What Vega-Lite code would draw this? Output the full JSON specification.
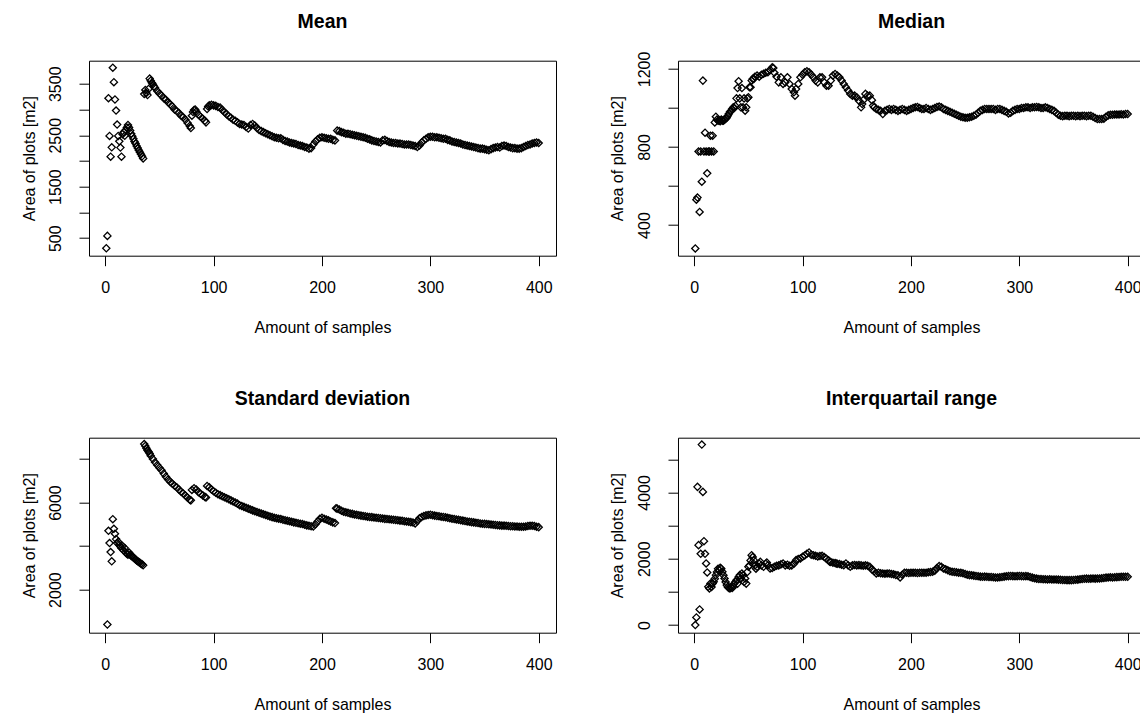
{
"$schema": "https://vega.github.io/schema/vega-lite/v6.json",
"padding": {"left": 20, "top": 10.7, "right": 0, "bottom": 0},
"background": "white",
"columns": 2,
"spacing": {"row": 182, "column": 122},
"bounds": "flush",
"datasets": {
"mean": [
{"n":1,"v":305},{"n":2,"v":545},{"n":3,"v":3220},{"n":4,"v":2487},{"n":5,"v":2084},{"n":6,"v":2265},{"n":7,"v":3812},{"n":8,"v":3531},{"n":9,"v":3194},{"n":10,"v":2980},{"n":11,"v":2707},{"n":12,"v":2487},{"n":13,"v":2382},{"n":14,"v":2260},{"n":15,"v":2084},{"n":16,"v":2520},{"n":17,"v":2560},{"n":18,"v":2490},{"n":19,"v":2600},{"n":20,"v":2650},{"n":21,"v":2700},{"n":22,"v":2650},{"n":23,"v":2590},{"n":24,"v":2530},{"n":25,"v":2480},{"n":26,"v":2430},{"n":27,"v":2380},{"n":28,"v":2340},{"n":29,"v":2290},{"n":30,"v":2250},{"n":31,"v":2210},{"n":32,"v":2170},{"n":33,"v":2130},{"n":34,"v":2090},{"n":35,"v":2050},{"n":36,"v":3300},{"n":37,"v":3380},{"n":38,"v":3320},{"n":39,"v":3280},{"n":40,"v":3400},{"n":41,"v":3600},{"n":42,"v":3560},{"n":43,"v":3520},{"n":44,"v":3490},{"n":45,"v":3450},{"n":46,"v":3420},{"n":48,"v":3360},{"n":50,"v":3310},{"n":52,"v":3270},{"n":54,"v":3220},{"n":56,"v":3190},{"n":58,"v":3140},{"n":60,"v":3100},{"n":62,"v":3060},{"n":64,"v":3000},{"n":66,"v":2970},{"n":68,"v":2930},{"n":70,"v":2880},{"n":72,"v":2850},{"n":74,"v":2800},{"n":76,"v":2740},{"n":78,"v":2680},{"n":79,"v":2640},{"n":80,"v":2880},{"n":81,"v":2950},{"n":82,"v":2990},{"n":83,"v":3000},{"n":84,"v":2960},{"n":86,"v":2900},{"n":88,"v":2860},{"n":90,"v":2820},{"n":92,"v":2780},{"n":93,"v":2750},{"n":94,"v":3010},{"n":95,"v":3060},{"n":96,"v":3080},{"n":98,"v":3090},{"n":100,"v":3080},{"n":102,"v":3070},{"n":104,"v":3050},{"n":106,"v":3040},{"n":108,"v":2990},{"n":110,"v":2950},{"n":112,"v":2910},{"n":114,"v":2870},{"n":116,"v":2840},{"n":118,"v":2800},{"n":120,"v":2780},{"n":122,"v":2750},{"n":124,"v":2720},{"n":126,"v":2710},{"n":128,"v":2700},{"n":130,"v":2660},{"n":132,"v":2630},{"n":134,"v":2700},{"n":136,"v":2720},{"n":138,"v":2690},{"n":140,"v":2640},{"n":142,"v":2600},{"n":144,"v":2580},{"n":146,"v":2560},{"n":148,"v":2540},{"n":150,"v":2520},{"n":152,"v":2500},{"n":154,"v":2480},{"n":156,"v":2460},{"n":158,"v":2450},{"n":160,"v":2440},{"n":162,"v":2440},{"n":164,"v":2410},{"n":166,"v":2390},{"n":168,"v":2380},{"n":170,"v":2360},{"n":172,"v":2350},{"n":174,"v":2340},{"n":176,"v":2330},{"n":178,"v":2310},{"n":180,"v":2300},{"n":182,"v":2290},{"n":184,"v":2270},{"n":186,"v":2260},{"n":188,"v":2240},{"n":190,"v":2250},{"n":192,"v":2320},{"n":194,"v":2380},{"n":196,"v":2420},{"n":198,"v":2450},{"n":200,"v":2460},{"n":202,"v":2450},{"n":204,"v":2440},{"n":206,"v":2430},{"n":208,"v":2430},{"n":210,"v":2410},{"n":212,"v":2400},{"n":214,"v":2590},{"n":216,"v":2580},{"n":218,"v":2560},{"n":220,"v":2550},{"n":222,"v":2530},{"n":224,"v":2530},{"n":226,"v":2520},{"n":228,"v":2510},{"n":230,"v":2500},{"n":232,"v":2490},{"n":234,"v":2480},{"n":236,"v":2470},{"n":238,"v":2460},{"n":240,"v":2450},{"n":242,"v":2430},{"n":244,"v":2420},{"n":246,"v":2400},{"n":248,"v":2390},{"n":250,"v":2380},{"n":252,"v":2370},{"n":254,"v":2360},{"n":256,"v":2400},{"n":258,"v":2410},{"n":260,"v":2390},{"n":262,"v":2370},{"n":264,"v":2360},{"n":266,"v":2350},{"n":268,"v":2350},{"n":270,"v":2340},{"n":272,"v":2340},{"n":274,"v":2330},{"n":276,"v":2320},{"n":278,"v":2320},{"n":280,"v":2320},{"n":282,"v":2310},{"n":284,"v":2300},{"n":286,"v":2290},{"n":288,"v":2270},{"n":290,"v":2300},{"n":292,"v":2360},{"n":294,"v":2400},{"n":296,"v":2430},{"n":298,"v":2460},{"n":300,"v":2470},{"n":302,"v":2470},{"n":304,"v":2460},{"n":306,"v":2460},{"n":308,"v":2450},{"n":310,"v":2440},{"n":312,"v":2430},{"n":314,"v":2430},{"n":316,"v":2410},{"n":318,"v":2400},{"n":320,"v":2380},{"n":322,"v":2370},{"n":324,"v":2360},{"n":326,"v":2350},{"n":328,"v":2340},{"n":330,"v":2320},{"n":332,"v":2310},{"n":334,"v":2300},{"n":336,"v":2290},{"n":338,"v":2280},{"n":340,"v":2270},{"n":342,"v":2260},{"n":344,"v":2250},{"n":346,"v":2240},{"n":348,"v":2240},{"n":350,"v":2230},{"n":352,"v":2220},{"n":354,"v":2210},{"n":356,"v":2230},{"n":358,"v":2250},{"n":360,"v":2260},{"n":362,"v":2270},{"n":364,"v":2260},{"n":366,"v":2290},{"n":368,"v":2300},{"n":370,"v":2290},{"n":372,"v":2270},{"n":374,"v":2260},{"n":376,"v":2250},{"n":378,"v":2250},{"n":380,"v":2240},{"n":382,"v":2240},{"n":384,"v":2250},{"n":386,"v":2270},{"n":388,"v":2290},{"n":390,"v":2310},{"n":392,"v":2320},{"n":394,"v":2340},{"n":396,"v":2350},{"n":398,"v":2360},{"n":400,"v":2350}
],
"median": [
{"n":1,"v":280},{"n":2,"v":530},{"n":3,"v":541},{"n":4,"v":777},{"n":5,"v":467},{"n":6,"v":777},{"n":7,"v":622},{"n":8,"v":1140},{"n":9,"v":777},{"n":10,"v":873},{"n":11,"v":777},{"n":12,"v":665},{"n":13,"v":777},{"n":14,"v":777},{"n":15,"v":858},{"n":16,"v":777},{"n":17,"v":858},{"n":18,"v":777},{"n":19,"v":926},{"n":20,"v":955},{"n":21,"v":940},{"n":22,"v":935},{"n":23,"v":935},{"n":24,"v":932},{"n":25,"v":940},{"n":26,"v":935},{"n":27,"v":935},{"n":28,"v":940},{"n":29,"v":945},{"n":30,"v":950},{"n":31,"v":960},{"n":32,"v":970},{"n":33,"v":980},{"n":34,"v":985},{"n":35,"v":995},{"n":36,"v":1003},{"n":37,"v":1000},{"n":38,"v":1010},{"n":39,"v":1049},{"n":40,"v":1102},{"n":41,"v":1137},{"n":42,"v":1049},{"n":43,"v":1003},{"n":44,"v":1102},{"n":45,"v":1003},{"n":46,"v":1049},{"n":47,"v":986},{"n":48,"v":1003},{"n":49,"v":1049},{"n":50,"v":1055},{"n":51,"v":1106},{"n":52,"v":1106},{"n":53,"v":1140},{"n":54,"v":1149},{"n":55,"v":1149},{"n":56,"v":1160},{"n":58,"v":1166},{"n":60,"v":1160},{"n":62,"v":1170},{"n":64,"v":1175},{"n":66,"v":1180},{"n":68,"v":1183},{"n":70,"v":1195},{"n":72,"v":1208},{"n":73,"v":1205},{"n":74,"v":1180},{"n":76,"v":1160},{"n":78,"v":1131},{"n":80,"v":1157},{"n":82,"v":1123},{"n":84,"v":1131},{"n":86,"v":1157},{"n":88,"v":1123},{"n":90,"v":1097},{"n":92,"v":1080},{"n":93,"v":1063},{"n":94,"v":1097},{"n":96,"v":1123},{"n":98,"v":1157},{"n":100,"v":1170},{"n":102,"v":1183},{"n":104,"v":1188},{"n":106,"v":1183},{"n":108,"v":1170},{"n":110,"v":1157},{"n":112,"v":1140},{"n":114,"v":1131},{"n":116,"v":1157},{"n":118,"v":1157},{"n":120,"v":1131},{"n":122,"v":1114},{"n":124,"v":1114},{"n":126,"v":1140},{"n":128,"v":1166},{"n":130,"v":1174},{"n":132,"v":1166},{"n":134,"v":1157},{"n":136,"v":1140},{"n":138,"v":1123},{"n":140,"v":1106},{"n":142,"v":1089},{"n":144,"v":1072},{"n":146,"v":1063},{"n":148,"v":1063},{"n":150,"v":1055},{"n":152,"v":1037},{"n":154,"v":1003},{"n":155,"v":1020},{"n":156,"v":1040},{"n":158,"v":1072},{"n":160,"v":1063},{"n":162,"v":1063},{"n":164,"v":1040},{"n":165,"v":1012},{"n":166,"v":1003},{"n":168,"v":995},{"n":170,"v":990},{"n":172,"v":986},{"n":174,"v":969},{"n":176,"v":986},{"n":178,"v":990},{"n":180,"v":995},{"n":182,"v":990},{"n":184,"v":995},{"n":186,"v":990},{"n":188,"v":985},{"n":190,"v":990},{"n":192,"v":995},{"n":194,"v":990},{"n":196,"v":985},{"n":198,"v":990},{"n":200,"v":995},{"n":202,"v":1000},{"n":204,"v":1003},{"n":206,"v":1005},{"n":208,"v":1000},{"n":210,"v":995},{"n":212,"v":995},{"n":214,"v":1000},{"n":216,"v":995},{"n":218,"v":990},{"n":220,"v":995},{"n":222,"v":1000},{"n":224,"v":1005},{"n":226,"v":1007},{"n":228,"v":1003},{"n":230,"v":995},{"n":232,"v":990},{"n":234,"v":985},{"n":236,"v":980},{"n":238,"v":975},{"n":240,"v":970},{"n":242,"v":965},{"n":244,"v":960},{"n":246,"v":955},{"n":248,"v":952},{"n":250,"v":950},{"n":252,"v":950},{"n":254,"v":952},{"n":256,"v":955},{"n":258,"v":960},{"n":260,"v":965},{"n":262,"v":975},{"n":264,"v":985},{"n":266,"v":990},{"n":268,"v":995},{"n":270,"v":995},{"n":272,"v":995},{"n":274,"v":995},{"n":276,"v":995},{"n":278,"v":990},{"n":280,"v":995},{"n":282,"v":995},{"n":284,"v":990},{"n":286,"v":985},{"n":288,"v":980},{"n":290,"v":972},{"n":292,"v":975},{"n":294,"v":985},{"n":296,"v":990},{"n":298,"v":995},{"n":300,"v":995},{"n":302,"v":1000},{"n":304,"v":1000},{"n":306,"v":1003},{"n":308,"v":1003},{"n":310,"v":1000},{"n":312,"v":1003},{"n":314,"v":1003},{"n":316,"v":1005},{"n":318,"v":1003},{"n":320,"v":1000},{"n":322,"v":1000},{"n":324,"v":1003},{"n":326,"v":1000},{"n":328,"v":995},{"n":330,"v":990},{"n":332,"v":985},{"n":334,"v":975},{"n":336,"v":965},{"n":338,"v":960},{"n":340,"v":958},{"n":342,"v":960},{"n":344,"v":960},{"n":346,"v":958},{"n":348,"v":960},{"n":350,"v":960},{"n":352,"v":958},{"n":354,"v":960},{"n":356,"v":958},{"n":358,"v":960},{"n":360,"v":960},{"n":362,"v":958},{"n":364,"v":960},{"n":366,"v":960},{"n":368,"v":955},{"n":370,"v":948},{"n":372,"v":943},{"n":374,"v":943},{"n":376,"v":943},{"n":378,"v":945},{"n":380,"v":955},{"n":382,"v":962},{"n":384,"v":965},{"n":386,"v":965},{"n":388,"v":966},{"n":390,"v":966},{"n":392,"v":966},{"n":394,"v":968},{"n":396,"v":966},{"n":398,"v":969},{"n":400,"v":969}
],
"sd": [
{"n":2,"v":397},{"n":3,"v":4703},{"n":4,"v":4138},{"n":5,"v":3726},{"n":6,"v":3298},{"n":7,"v":5237},{"n":8,"v":4794},{"n":9,"v":4565},{"n":10,"v":4321},{"n":11,"v":4138},{"n":12,"v":4200},{"n":13,"v":4050},{"n":14,"v":3985},{"n":15,"v":3900},{"n":16,"v":4000},{"n":17,"v":3800},{"n":18,"v":3909},{"n":19,"v":3700},{"n":20,"v":3650},{"n":21,"v":3603},{"n":22,"v":3700},{"n":23,"v":3600},{"n":24,"v":3550},{"n":25,"v":3527},{"n":26,"v":3480},{"n":27,"v":3430},{"n":28,"v":3380},{"n":29,"v":3340},{"n":30,"v":3298},{"n":31,"v":3270},{"n":32,"v":3230},{"n":33,"v":3190},{"n":34,"v":3160},{"n":35,"v":3115},{"n":36,"v":8688},{"n":37,"v":8600},{"n":38,"v":8500},{"n":39,"v":8400},{"n":40,"v":8337},{"n":41,"v":8250},{"n":42,"v":8150},{"n":44,"v":8000},{"n":46,"v":7850},{"n":48,"v":7720},{"n":50,"v":7600},{"n":52,"v":7480},{"n":54,"v":7330},{"n":56,"v":7190},{"n":58,"v":7060},{"n":60,"v":6950},{"n":62,"v":6860},{"n":64,"v":6770},{"n":66,"v":6700},{"n":68,"v":6600},{"n":70,"v":6500},{"n":72,"v":6420},{"n":74,"v":6320},{"n":76,"v":6220},{"n":78,"v":6130},{"n":79,"v":6100},{"n":80,"v":6581},{"n":82,"v":6660},{"n":84,"v":6600},{"n":86,"v":6480},{"n":88,"v":6400},{"n":90,"v":6330},{"n":92,"v":6260},{"n":93,"v":6230},{"n":94,"v":6764},{"n":96,"v":6700},{"n":98,"v":6600},{"n":100,"v":6520},{"n":102,"v":6450},{"n":104,"v":6380},{"n":106,"v":6340},{"n":108,"v":6290},{"n":110,"v":6240},{"n":112,"v":6200},{"n":114,"v":6150},{"n":116,"v":6100},{"n":118,"v":6050},{"n":120,"v":6000},{"n":122,"v":5950},{"n":124,"v":5880},{"n":126,"v":5840},{"n":128,"v":5800},{"n":130,"v":5760},{"n":132,"v":5720},{"n":134,"v":5680},{"n":136,"v":5640},{"n":138,"v":5600},{"n":140,"v":5570},{"n":142,"v":5530},{"n":144,"v":5500},{"n":146,"v":5460},{"n":148,"v":5430},{"n":150,"v":5390},{"n":152,"v":5360},{"n":154,"v":5330},{"n":156,"v":5300},{"n":158,"v":5280},{"n":160,"v":5260},{"n":162,"v":5240},{"n":164,"v":5210},{"n":166,"v":5190},{"n":168,"v":5160},{"n":170,"v":5140},{"n":172,"v":5120},{"n":174,"v":5090},{"n":176,"v":5070},{"n":178,"v":5050},{"n":180,"v":5030},{"n":182,"v":5010},{"n":184,"v":4980},{"n":186,"v":4950},{"n":188,"v":4930},{"n":190,"v":4910},{"n":192,"v":4900},{"n":194,"v":5000},{"n":196,"v":5130},{"n":198,"v":5250},{"n":200,"v":5300},{"n":202,"v":5260},{"n":204,"v":5220},{"n":206,"v":5180},{"n":208,"v":5130},{"n":210,"v":5090},{"n":212,"v":5060},{"n":213,"v":5741},{"n":214,"v":5720},{"n":216,"v":5680},{"n":218,"v":5620},{"n":220,"v":5580},{"n":222,"v":5550},{"n":224,"v":5530},{"n":226,"v":5500},{"n":228,"v":5480},{"n":230,"v":5450},{"n":232,"v":5440},{"n":234,"v":5420},{"n":236,"v":5400},{"n":238,"v":5380},{"n":240,"v":5370},{"n":242,"v":5350},{"n":244,"v":5340},{"n":246,"v":5330},{"n":248,"v":5310},{"n":250,"v":5300},{"n":252,"v":5290},{"n":254,"v":5280},{"n":256,"v":5270},{"n":258,"v":5250},{"n":260,"v":5240},{"n":262,"v":5230},{"n":264,"v":5220},{"n":266,"v":5210},{"n":268,"v":5200},{"n":270,"v":5190},{"n":272,"v":5170},{"n":274,"v":5160},{"n":276,"v":5140},{"n":278,"v":5130},{"n":280,"v":5120},{"n":282,"v":5100},{"n":284,"v":5080},{"n":286,"v":5040},{"n":288,"v":5150},{"n":290,"v":5280},{"n":292,"v":5340},{"n":294,"v":5380},{"n":296,"v":5410},{"n":298,"v":5430},{"n":300,"v":5440},{"n":302,"v":5420},{"n":304,"v":5400},{"n":306,"v":5380},{"n":308,"v":5370},{"n":310,"v":5350},{"n":312,"v":5340},{"n":314,"v":5320},{"n":316,"v":5300},{"n":318,"v":5280},{"n":320,"v":5260},{"n":322,"v":5240},{"n":324,"v":5220},{"n":326,"v":5210},{"n":328,"v":5190},{"n":330,"v":5170},{"n":332,"v":5150},{"n":334,"v":5130},{"n":336,"v":5120},{"n":338,"v":5100},{"n":340,"v":5090},{"n":342,"v":5070},{"n":344,"v":5060},{"n":346,"v":5040},{"n":348,"v":5030},{"n":350,"v":5020},{"n":352,"v":5010},{"n":354,"v":5000},{"n":356,"v":4990},{"n":358,"v":4980},{"n":360,"v":4970},{"n":362,"v":4960},{"n":364,"v":4950},{"n":366,"v":4940},{"n":368,"v":4940},{"n":370,"v":4930},{"n":372,"v":4920},{"n":374,"v":4910},{"n":376,"v":4910},{"n":378,"v":4900},{"n":380,"v":4900},{"n":382,"v":4890},{"n":384,"v":4890},{"n":386,"v":4890},{"n":388,"v":4900},{"n":390,"v":4920},{"n":392,"v":4930},{"n":394,"v":4930},{"n":396,"v":4920},{"n":398,"v":4890},{"n":400,"v":4870}
],
"iqr": [
{"n":1,"v":0},{"n":2,"v":231},{"n":3,"v":4167},{"n":4,"v":2410},{"n":5,"v":472},{"n":6,"v":2148},{"n":7,"v":5442},{"n":8,"v":4016},{"n":9,"v":2530},{"n":10,"v":2148},{"n":11,"v":1857},{"n":12,"v":1587},{"n":13,"v":1154},{"n":14,"v":1100},{"n":15,"v":1254},{"n":16,"v":1150},{"n":17,"v":1250},{"n":18,"v":1305},{"n":19,"v":1400},{"n":20,"v":1506},{"n":21,"v":1600},{"n":22,"v":1700},{"n":23,"v":1656},{"n":24,"v":1727},{"n":25,"v":1700},{"n":26,"v":1606},{"n":27,"v":1500},{"n":28,"v":1406},{"n":29,"v":1300},{"n":30,"v":1205},{"n":31,"v":1150},{"n":32,"v":1120},{"n":33,"v":1104},{"n":34,"v":1150},{"n":35,"v":1120},{"n":36,"v":1154},{"n":37,"v":1250},{"n":38,"v":1300},{"n":39,"v":1355},{"n":40,"v":1250},{"n":41,"v":1450},{"n":42,"v":1506},{"n":43,"v":1400},{"n":44,"v":1556},{"n":45,"v":1500},{"n":46,"v":1300},{"n":47,"v":1406},{"n":48,"v":1250},{"n":49,"v":1600},{"n":50,"v":1757},{"n":51,"v":1800},{"n":52,"v":1950},{"n":53,"v":2108},{"n":54,"v":2050},{"n":55,"v":1958},{"n":56,"v":1800},{"n":57,"v":1700},{"n":58,"v":1757},{"n":60,"v":1850},{"n":61,"v":1908},{"n":62,"v":1800},{"n":64,"v":1757},{"n":66,"v":1850},{"n":67,"v":1888},{"n":68,"v":1800},{"n":70,"v":1707},{"n":72,"v":1720},{"n":74,"v":1760},{"n":76,"v":1787},{"n":78,"v":1800},{"n":80,"v":1830},{"n":82,"v":1857},{"n":84,"v":1800},{"n":86,"v":1820},{"n":88,"v":1787},{"n":90,"v":1800},{"n":92,"v":1850},{"n":94,"v":1958},{"n":96,"v":1990},{"n":98,"v":2010},{"n":100,"v":2059},{"n":102,"v":2100},{"n":104,"v":2150},{"n":106,"v":2189},{"n":108,"v":2120},{"n":110,"v":2108},{"n":112,"v":2090},{"n":114,"v":2070},{"n":116,"v":2080},{"n":118,"v":2088},{"n":120,"v":2050},{"n":122,"v":2000},{"n":124,"v":1950},{"n":125,"v":1908},{"n":126,"v":1900},{"n":128,"v":1880},{"n":130,"v":1870},{"n":131,"v":1857},{"n":132,"v":1850},{"n":134,"v":1840},{"n":136,"v":1820},{"n":138,"v":1807},{"n":140,"v":1857},{"n":142,"v":1800},{"n":144,"v":1757},{"n":146,"v":1800},{"n":148,"v":1810},{"n":150,"v":1800},{"n":152,"v":1807},{"n":154,"v":1800},{"n":156,"v":1790},{"n":158,"v":1800},{"n":160,"v":1790},{"n":162,"v":1760},{"n":164,"v":1677},{"n":166,"v":1620},{"n":168,"v":1556},{"n":170,"v":1580},{"n":172,"v":1560},{"n":174,"v":1556},{"n":176,"v":1550},{"n":178,"v":1556},{"n":180,"v":1556},{"n":182,"v":1540},{"n":184,"v":1530},{"n":186,"v":1510},{"n":188,"v":1500},{"n":190,"v":1436},{"n":192,"v":1520},{"n":194,"v":1576},{"n":196,"v":1580},{"n":198,"v":1570},{"n":200,"v":1576},{"n":202,"v":1580},{"n":204,"v":1576},{"n":206,"v":1570},{"n":208,"v":1575},{"n":210,"v":1580},{"n":212,"v":1576},{"n":214,"v":1580},{"n":216,"v":1590},{"n":218,"v":1600},{"n":220,"v":1606},{"n":222,"v":1640},{"n":224,"v":1720},{"n":226,"v":1777},{"n":228,"v":1760},{"n":230,"v":1707},{"n":232,"v":1680},{"n":234,"v":1650},{"n":236,"v":1620},{"n":238,"v":1606},{"n":240,"v":1600},{"n":242,"v":1590},{"n":244,"v":1580},{"n":246,"v":1576},{"n":248,"v":1560},{"n":250,"v":1540},{"n":252,"v":1520},{"n":254,"v":1506},{"n":256,"v":1500},{"n":258,"v":1490},{"n":260,"v":1480},{"n":262,"v":1470},{"n":264,"v":1460},{"n":266,"v":1456},{"n":268,"v":1460},{"n":270,"v":1456},{"n":272,"v":1450},{"n":274,"v":1450},{"n":276,"v":1440},{"n":278,"v":1436},{"n":280,"v":1436},{"n":282,"v":1440},{"n":284,"v":1450},{"n":286,"v":1460},{"n":288,"v":1470},{"n":290,"v":1476},{"n":292,"v":1480},{"n":294,"v":1476},{"n":296,"v":1470},{"n":298,"v":1476},{"n":300,"v":1480},{"n":302,"v":1476},{"n":304,"v":1470},{"n":306,"v":1476},{"n":308,"v":1470},{"n":310,"v":1450},{"n":312,"v":1430},{"n":314,"v":1410},{"n":316,"v":1400},{"n":318,"v":1390},{"n":320,"v":1386},{"n":322,"v":1380},{"n":324,"v":1380},{"n":326,"v":1376},{"n":328,"v":1380},{"n":330,"v":1376},{"n":332,"v":1376},{"n":334,"v":1376},{"n":336,"v":1370},{"n":338,"v":1365},{"n":340,"v":1360},{"n":342,"v":1360},{"n":344,"v":1355},{"n":346,"v":1355},{"n":348,"v":1355},{"n":350,"v":1360},{"n":352,"v":1365},{"n":354,"v":1370},{"n":356,"v":1380},{"n":358,"v":1390},{"n":360,"v":1396},{"n":362,"v":1400},{"n":364,"v":1396},{"n":366,"v":1400},{"n":368,"v":1406},{"n":370,"v":1400},{"n":372,"v":1406},{"n":374,"v":1406},{"n":376,"v":1410},{"n":378,"v":1420},{"n":380,"v":1430},{"n":382,"v":1436},{"n":384,"v":1440},{"n":386,"v":1436},{"n":388,"v":1440},{"n":390,"v":1446},{"n":392,"v":1450},{"n":394,"v":1456},{"n":396,"v":1456},{"n":398,"v":1456},{"n":400,"v":1456}
]
},
"concat": [
{
"title": {"text": "Mean"},
"width": 467, "height": 195,
"data": {"name": "mean"},
"mark": {"type": "point", "shape": "diamond", "filled": false, "size": 52, "strokeWidth": 1.3, "color": "black", "opacity": 1},
"encoding": {
"x": {"field": "n", "type": "quantitative", "scale": {"domain": [-14.96, 415.96], "nice": false, "zero": false}, "axis": {"values": [0, 100, 200, 300, 400], "title": "Amount of samples"}},
"y": {"field": "v", "type": "quantitative", "scale": {"domain": [160, 3948], "nice": false, "zero": false}, "axis": {"values": [500, 1000, 1500, 2000, 2500, 3000, 3500], "labelExpr": "datum.value % 1000 == 500 ? datum.label : ''", "title": "Area of plots [m2]"}}
}
},
{
"title": {"text": "Median", "offset": 18.5},
"width": 467, "height": 195,
"data": {"name": "median"},
"mark": {"type": "point", "shape": "diamond", "filled": false, "size": 52, "strokeWidth": 1.3, "color": "black", "opacity": 1},
"encoding": {
"x": {"field": "n", "type": "quantitative", "scale": {"domain": [-14.96, 415.96], "nice": false, "zero": false}, "axis": {"values": [0, 100, 200, 300, 400], "title": "Amount of samples"}},
"y": {"field": "v", "type": "quantitative", "scale": {"domain": [243, 1242], "nice": false, "zero": false}, "axis": {"values": [400, 600, 800, 1000, 1200], "labelExpr": "datum.value % 400 == 0 ? datum.label : ''", "title": "Area of plots [m2]"}}
}
},
{
"title": {"text": "Standard deviation"},
"width": 467, "height": 195,
"data": {"name": "sd"},
"mark": {"type": "point", "shape": "diamond", "filled": false, "size": 52, "strokeWidth": 1.3, "color": "black", "opacity": 1},
"encoding": {
"x": {"field": "n", "type": "quantitative", "scale": {"domain": [-14.96, 415.96], "nice": false, "zero": false}, "axis": {"values": [0, 100, 200, 300, 400], "title": "Amount of samples"}},
"y": {"field": "v", "type": "quantitative", "scale": {"domain": [20, 8980], "nice": false, "zero": false}, "axis": {"values": [2000, 4000, 6000, 8000], "labelExpr": "datum.value % 4000 == 2000 ? datum.label : ''", "title": "Area of plots [m2]"}}
}
},
{
"title": {"text": "Interquartail range"},
"width": 467, "height": 195,
"data": {"name": "iqr"},
"mark": {"type": "point", "shape": "diamond", "filled": false, "size": 52, "strokeWidth": 1.3, "color": "black", "opacity": 1},
"encoding": {
"x": {"field": "n", "type": "quantitative", "scale": {"domain": [-14.96, 415.96], "nice": false, "zero": false}, "axis": {"values": [0, 100, 200, 300, 400], "title": "Amount of samples"}},
"y": {"field": "v", "type": "quantitative", "scale": {"domain": [-230, 5650], "nice": false, "zero": false}, "axis": {"values": [0, 1000, 2000, 3000, 4000, 5000], "labelExpr": "datum.value % 2000 == 0 ? datum.label : ''", "title": "Area of plots [m2]"}}
}
}
],
"config": {
"font": "Liberation Sans",
"view": {"stroke": "black", "strokeWidth": 1},
"axis": {"domain": false, "grid": false, "ticks": true, "format": "d", "tickColor": "black", "tickSize": 10, "tickWidth": 1, "labelColor": "black", "labelFont": "Liberation Sans", "labelFontSize": 16, "labelFlush": false, "labelOverlap": false, "titleFont": "Liberation Sans", "titleFontSize": 16, "titleFontWeight": "normal", "titleColor": "black"},
"axisX": {"labelPadding": 26.7, "labelBaseline": "alphabetic", "labelAlign": "center", "titleBaseline": "alphabetic", "titleY": 76.7},
"axisY": {"labelAngle": -90, "labelAlign": "center", "labelBaseline": "alphabetic", "labelPadding": 18.3, "titleAngle": -90, "titleBaseline": "alphabetic", "titleX": -55},
"title": {"font": "Liberation Sans", "fontSize": 19.5, "fontWeight": "bold", "color": "black", "anchor": "middle", "frame": "group", "baseline": "alphabetic", "offset": 28}
}
}
